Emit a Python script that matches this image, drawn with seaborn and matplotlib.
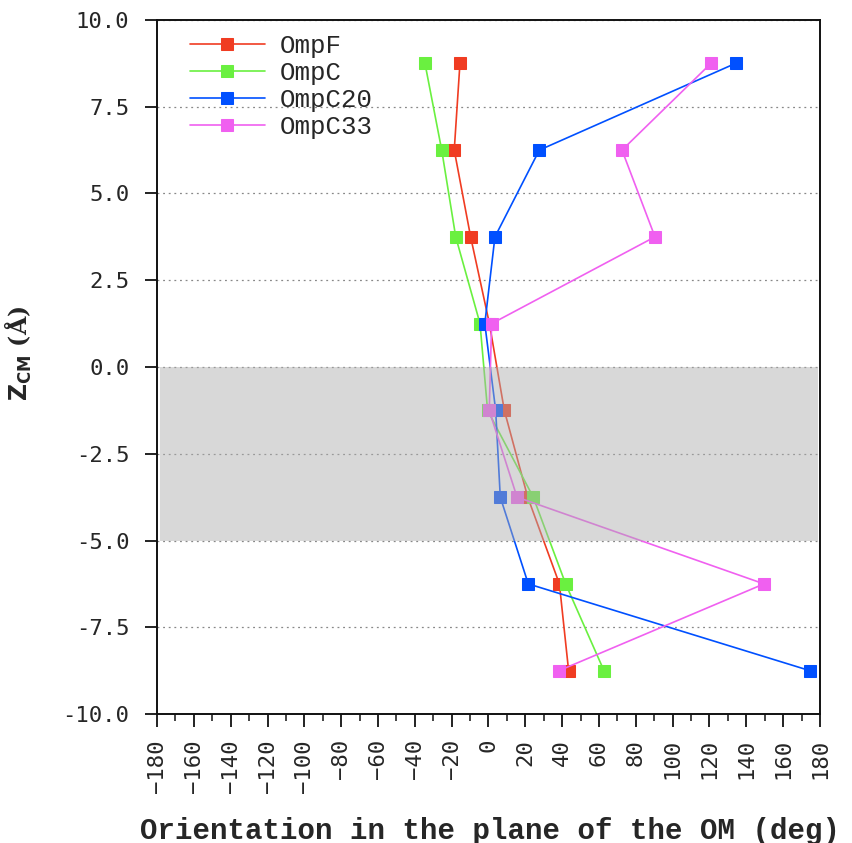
import matplotlib
matplotlib.use("Agg")
import matplotlib.pyplot as plt
import seaborn as sns
import numpy as np
from matplotlib.ticker import MultipleLocator, FormatStrFormatter

# Depth of the residue centre of mass (Å) at which each orientation was sampled
z_cm = [8.75, 6.25, 3.75, 1.25, -1.25, -3.75, -6.25, -8.75]

# Orientation in the plane of the outer membrane (deg)
ompf = [-15.5, -18.6, -9.7, 0.5, 8.6, 21.3, 38.5, 43.5]
ompc = [-34.5, -25.4, -17.8, -4.6, -0.5, 24.3, 41.9, 62.7]
ompc20 = [134.2, 27.6, 3.5, -2.0, 3.9, 6.4, 21.6, 174.5]
ompc33 = [120.8, 72.5, 90.4, 1.7, 0.4, 15.5, 149.6, 38.3]

series_names = ["OmpF", "OmpC", "OmpC20", "OmpC33"]
series_values = [ompf, ompc, ompc20, ompc33]
series_colors = ["#f03c22", "#6af040", "#0050ff", "#f060f0"]

sns.set_style("white")
plt.rcParams["font.family"] = ["DejaVu Sans Mono", "DejaVu Sans"]

fig = plt.figure(figsize=(8.52, 8.43), dpi=100)
ax = fig.add_axes([0.1843, 0.153, 0.7781, 0.8233])

for name, vals, col in zip(series_names, series_values, series_colors):
    sns.lineplot(x=vals, y=z_cm, sort=False, estimator=None, ax=ax,
                 color=col, linewidth=1.2, marker="s", markersize=8,
                 markeredgecolor=col, label=name, zorder=3)

# Shaded membrane region, drawn over the traces
ax.axhspan(-5, 0, xmin=0.004, xmax=0.997, color="#adadad", alpha=0.47,
           lw=0, zorder=4)

ax.set_xlim(-180, 180)
ax.set_ylim(-10, 10)
ax.xaxis.set_major_locator(MultipleLocator(20))
ax.xaxis.set_minor_locator(MultipleLocator(10))
ax.yaxis.set_major_locator(MultipleLocator(2.5))
ax.yaxis.set_major_formatter(FormatStrFormatter("%.1f"))

ax.yaxis.grid(True, linestyle=(0, (1.5, 3)), color="#888888", linewidth=0.9)
ax.xaxis.grid(False)
ax.set_axisbelow(True)

for side in ["left", "right", "top", "bottom"]:
    ax.spines[side].set_visible(True)
    ax.spines[side].set_color("#111111")
    ax.spines[side].set_linewidth(1.4)

ax.tick_params(axis="both", which="both", direction="out", color="#111111")
ax.tick_params(axis="x", which="major", length=9, width=1.3, pad=9,
               labelsize=16, labelrotation=90, bottom=True)
ax.tick_params(axis="x", which="minor", length=5, width=1.1, bottom=True)
ax.tick_params(axis="y", which="major", length=9, width=1.3, pad=11,
               labelsize=16, left=True)
for lab in ax.get_xticklabels():
    lab.set_verticalalignment("top")

ax.set_xlabel("Orientation in the plane of the OM (deg)",
              fontsize=21, fontweight="bold", family="Liberation Mono")
ax.xaxis.set_label_coords(0.502, -0.148)
ax.set_ylabel(r"$\mathbf{Z_{CM}}$" + " (Å)", fontsize=17, fontweight="bold",
              family="DejaVu Serif")
ax.yaxis.set_label_coords(-0.185, 0.52)

leg = ax.legend(loc="upper left", frameon=False,
                handlelength=2.9, handletextpad=0.6, labelspacing=0.12,
                borderpad=0.0, borderaxespad=0.0,
                bbox_to_anchor=(0.05, 0.98),
                prop={"family": "Liberation Mono", "size": 18.5})

fig.savefig("out.png", dpi=100)
